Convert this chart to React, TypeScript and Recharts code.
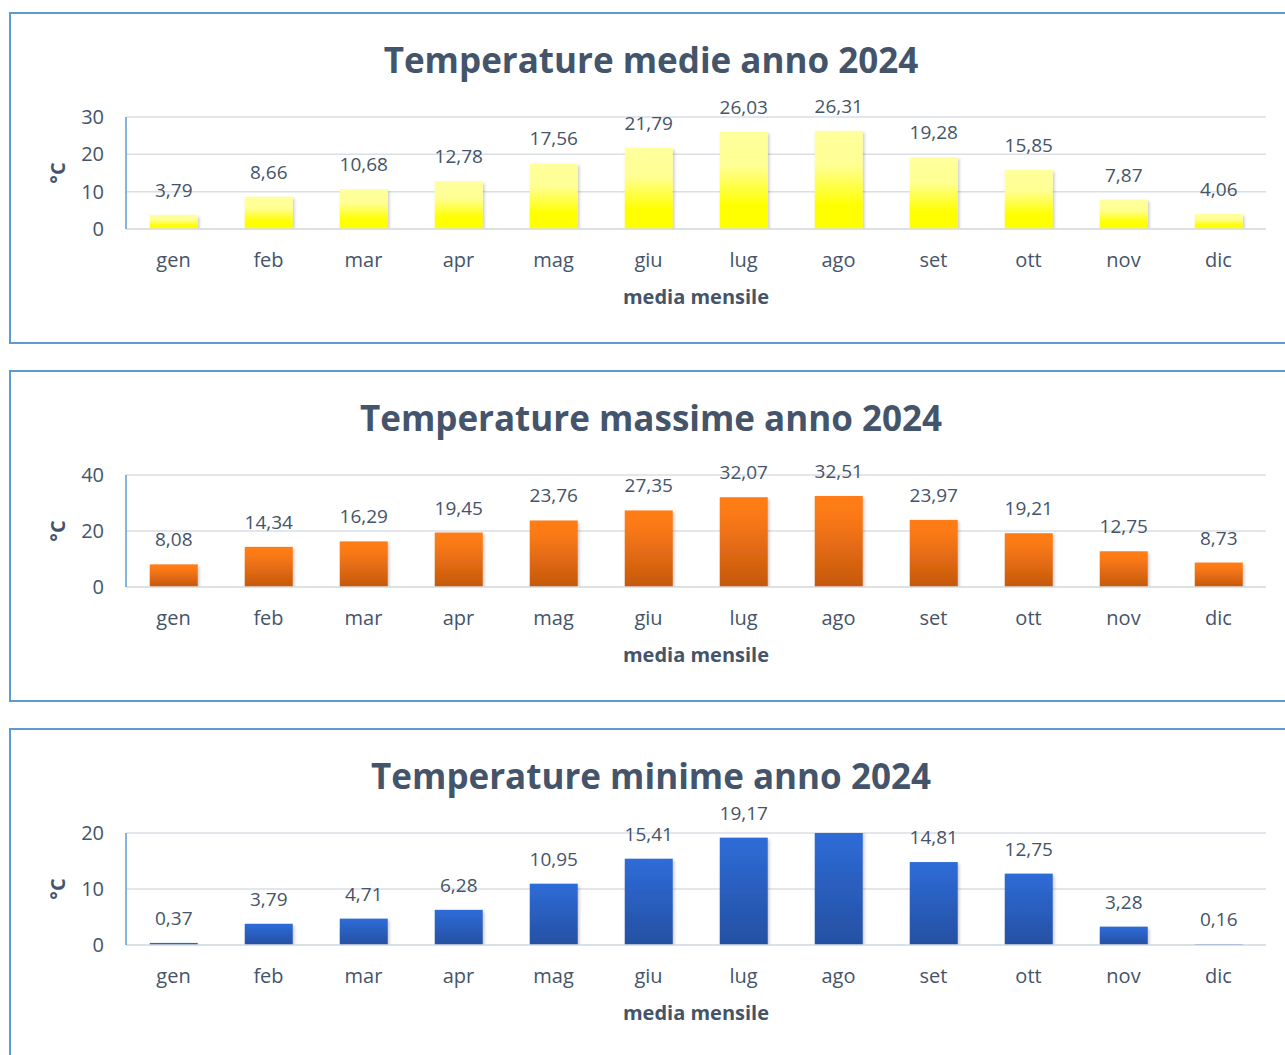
import React from 'react';
import { BarChart, Bar, XAxis, YAxis, CartesianGrid, LabelList, Label } from 'recharts';

const months = ['gen', 'feb', 'mar', 'apr', 'mag', 'giu', 'lug', 'ago', 'set', 'ott', 'nov', 'dic'];
const medieValues = [3.79, 8.66, 10.68, 12.78, 17.56, 21.79, 26.03, 26.31, 19.28, 15.85, 7.87, 4.06];
const massimeValues = [8.08, 14.34, 16.29, 19.45, 23.76, 27.35, 32.07, 32.51, 23.97, 19.21, 12.75, 8.73];
const minimeValues = [0.37, 3.79, 4.71, 6.28, 10.95, 15.41, 19.17, 20.42, 14.81, 12.75, 3.28, 0.16];
const medieTicks = [0, 10, 20, 30];
const massimeTicks = [0, 20, 40];
const minimeTicks = [0, 10, 20];
const titleMedie = 'Temperature medie anno 2024';
const titleMassime = 'Temperature massime anno 2024';
const titleMinime = 'Temperature minime anno 2024';
const xAxisTitle = 'media mensile';
const yAxisTitle = '°C';

const FONT = '"Open Sans", sans-serif';
const TEXT = '#44546a';

type Stop = [string, string];
const yellowStops: Stop[] = [['0%', '#ffff9c'], ['35%', '#ffff94'], ['75%', '#ffff05'], ['100%', '#ffff00']];
const orangeStops: Stop[] = [['0%', '#ff7c14'], ['20%', '#fb7a15'], ['100%', '#c5580f']];
const blueStops: Stop[] = [['0%', '#2f6cd8'], ['100%', '#2450a2']];

const fmt = (v: number) => v.toFixed(2).replace('.', ',');

function Panel(props: { top: number; title: string; values: number[]; ticks: number[]; id: string; stops: Stop[] }) {
  const { top, title, values, ticks, id, stops } = props;
  const data = months.map((m, i) => ({ month: m, value: values[i] }));
  const max = ticks[ticks.length - 1];

  const renderLabel = (p: any) => {
    const { x, y, width, value } = p;
    if (value > max) return null;
    return (
      <text x={Number(x) + Number(width) / 2} y={Number(y) - 18} textAnchor="middle" fill={TEXT} fontSize={19} fontFamily={FONT}>
        {fmt(Number(value))}
      </text>
    );
  };

  const shape = (p: any) => (
    <rect x={p.x} y={p.y} width={p.width} height={Math.max(0, p.height)} fill={`url(#grad-${id})`} filter={`url(#shadow-${id})`} />
  );

  return (
    <div style={{ position: 'absolute', left: 0, top, width: 1285, height: 333 }}>
      <div
        style={{
          position: 'absolute',
          left: 9,
          top: 0,
          width: 1300,
          height: 332,
          boxSizing: 'border-box',
          border: '2px solid #5b9bd5',
        }}
      />
      <div
        style={{
          position: 'absolute',
          left: 0,
          top: 30,
          width: 1302,
          textAlign: 'center',
          fontFamily: FONT,
          fontWeight: 700,
          fontSize: 35,
          lineHeight: '36px',
          color: TEXT,
        }}
      >
        {title}
      </div>
      <div style={{ position: 'absolute', left: 0, top: 0 }}>
        <BarChart
          width={1285}
          height={330}
          data={data}
          margin={{ top: 105, right: 19, left: 46, bottom: 33 }}
          barCategoryGap="25%"
          style={{ fontFamily: FONT }}
        >
          <defs>
            <linearGradient id={`grad-${id}`} x1="0" y1="0" x2="0" y2="1">
              {stops.map(([o, c]) => (
                <stop key={o} offset={o} stopColor={c} />
              ))}
            </linearGradient>
            <filter id={`shadow-${id}`} x="-20%" y="-20%" width="140%" height="140%">
              <feDropShadow dx="1.5" dy="2" stdDeviation="1.5" floodColor="#000" floodOpacity="0.22" />
            </filter>
          </defs>
          <CartesianGrid vertical={false} stroke="#dadfe5" strokeWidth={1.5} />
          <XAxis
            dataKey="month"
            height={80}
            tickLine={false}
            tickSize={0}
            tickMargin={24}
            axisLine={{ stroke: '#dadfe5', strokeWidth: 1.5 }}
            tick={{ fill: TEXT, fontSize: 20, fontFamily: FONT }}
            interval={0}
          >
            <Label value={xAxisTitle} position="insideBottom" offset={5} fill={TEXT} fontSize={20} fontWeight={700} fontFamily={FONT} />
          </XAxis>
          <YAxis
            width={80}
            domain={[0, max]}
            ticks={ticks}
            allowDataOverflow
            tickLine={false}
            tickSize={0}
            tickMargin={22}
            axisLine={{ stroke: '#5b9bd5', strokeWidth: 1.5 }}
            tick={{ fill: TEXT, fontSize: 20, fontFamily: FONT }}
          >
            <Label
              content={(lp: any) => {
                const vb = lp.viewBox || { x: 46, y: 105, width: 80, height: 112 };
                const cx = vb.x + 11;
                const cy = vb.y + vb.height / 2;
                return (
                  <text
                    x={cx}
                    y={cy}
                    transform={`rotate(-90 ${cx} ${cy})`}
                    textAnchor="middle"
                    dominantBaseline="central"
                    fill={TEXT}
                    fontSize={20}
                    fontWeight={700}
                    fontFamily={FONT}
                  >
                    {yAxisTitle}
                  </text>
                );
              }}
            />
          </YAxis>
          <Bar dataKey="value" isAnimationActive={false} shape={shape}>
            <LabelList dataKey="value" content={renderLabel} />
          </Bar>
        </BarChart>
      </div>
    </div>
  );
}

export default function App() {
  return (
    <div style={{ position: 'fixed', left: 0, top: 0, width: 1285, height: 1055, overflow: 'hidden', background: '#fff' }}>
      <Panel top={12} title={titleMedie} values={medieValues} ticks={medieTicks} id="medie" stops={yellowStops} />
      <Panel top={370} title={titleMassime} values={massimeValues} ticks={massimeTicks} id="massime" stops={orangeStops} />
      <Panel top={728} title={titleMinime} values={minimeValues} ticks={minimeTicks} id="minime" stops={blueStops} />
    </div>
  );
}
